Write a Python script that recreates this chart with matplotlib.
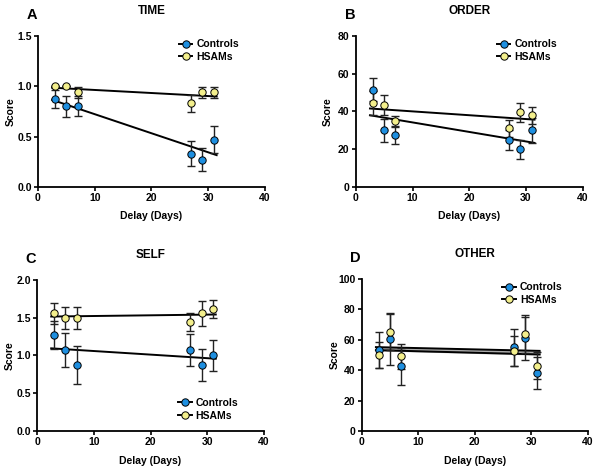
import numpy as np
import matplotlib
matplotlib.use("Agg")
import matplotlib.pyplot as plt

plt.rcParams['font.family'] = ['Liberation Sans', 'DejaVu Sans']
plt.rcParams['font.weight'] = 'bold'

delay = [3, 5, 7, 27, 29, 31]

# TIME
time_ctrl = [0.87, 0.80, 0.80, 0.33, 0.27, 0.47]
time_ctrl_sem = [0.09, 0.105, 0.10, 0.125, 0.115, 0.135]
time_hsam = [1.00, 1.00, 0.94, 0.83, 0.94, 0.94]
time_hsam_sem = [0.0, 0.0, 0.055, 0.085, 0.055, 0.055]

# ORDER
order_ctrl = [51.5, 30.0, 27.3, 25.0, 20.0, 30.0]
order_ctrl_sem = [6.0, 6.0, 4.6, 5.2, 5.0, 6.5]
order_hsam = [44.5, 43.5, 35.0, 31.0, 39.5, 38.0]
order_hsam_sem = [6.5, 5.3, 2.8, 4.5, 5.2, 4.5]

# SELF
self_ctrl = [1.27, 1.07, 0.87, 1.07, 0.87, 1.00]
self_ctrl_sem = [0.18, 0.225, 0.255, 0.21, 0.215, 0.20]
self_hsam = [1.56, 1.50, 1.50, 1.44, 1.56, 1.61]
self_hsam_sem = [0.14, 0.145, 0.145, 0.12, 0.165, 0.12]

# OTHER
other_ctrl = [53.5, 60.5, 42.5, 55.0, 61.0, 38.0]
other_ctrl_sem = [11.8, 17.0, 12.0, 12.0, 14.0, 10.5]
other_hsam = [50.0, 65.0, 49.0, 52.5, 64.0, 43.0]
other_hsam_sem = [8.5, 12.0, 8.5, 10.0, 12.5, 9.0]

blue = '#1e8fe0'
yellow = '#f3ef8c'

panels = [
    ('A', 'TIME', [0.063, 0.604, 0.377, 0.320], time_ctrl, time_ctrl_sem, time_hsam, time_hsam_sem,
     [0, 1.5], [0.0, 0.5, 1.0, 1.5], '%.1f', 'upper'),
    ('B', 'ORDER', [0.591, 0.604, 0.377, 0.320], order_ctrl, order_ctrl_sem, order_hsam, order_hsam_sem,
     [0, 80], [0, 20, 40, 60, 80], '%d', 'upper'),
    ('C', 'SELF', [0.0615, 0.087, 0.377, 0.320], self_ctrl, self_ctrl_sem, self_hsam, self_hsam_sem,
     [0, 2.0], [0.0, 0.5, 1.0, 1.5, 2.0], '%.1f', 'lower'),
    ('D', 'OTHER', [0.601, 0.087, 0.375, 0.322], other_ctrl, other_ctrl_sem, other_hsam, other_hsam_sem,
     [0, 100], [0, 20, 40, 60, 80, 100], '%d', 'upper'),
]

fig = plt.figure(figsize=(6.02, 4.72), dpi=100)

xfit = np.array([2.5, 31.5])
for letter, title, pos, c, cs, h, hs, ylim, yticks, fmt, legpos in panels:
    ax = fig.add_axes(pos)
    fits = []
    for y in (c, h):
        k, b = np.polyfit(delay, y, 1)
        fits.append(k * xfit + b)
        ax.plot(xfit, k * xfit + b, color='black', lw=1.4, zorder=2)
    if letter == 'D':
        ax.fill_between(xfit, fits[0], fits[1], color='#aaaaaa', zorder=1)

    ax.errorbar(delay, c, yerr=cs, fmt='none', ecolor='#222222', elinewidth=1,
                capsize=3, capthick=1, zorder=3)
    ax.errorbar(delay, h, yerr=hs, fmt='none', ecolor='#222222', elinewidth=1,
                capsize=3, capthick=1, zorder=3)
    ax.plot(delay, c, 'o', color=blue, mec='black', mew=0.7, ms=5.3, zorder=4)
    ax.plot(delay, h, 'o', color=yellow, mec='black', mew=0.7, ms=5.3, zorder=4)

    # legend handles (marker with line)
    hc, = ax.plot([], [], '-o', color='black', mfc=blue, mec='black', mew=0.7, ms=5.3, lw=1.4)
    hh, = ax.plot([], [], '-o', color='black', mfc=yellow, mec='black', mew=0.7, ms=5.3, lw=1.4)
    if legpos == 'upper':
        anchor = (0.58, 1.04)
    else:
        anchor = (0.58, 0.28)
    ax.legend([hc, hh], ['Controls', 'HSAMs'], loc='upper left', bbox_to_anchor=anchor,
              frameon=False, handlelength=1.3, handletextpad=0.4, labelspacing=0.25,
              prop={'weight': 'bold', 'size': 7.5})

    ax.set_xlim(0, 40)
    ax.set_ylim(*ylim)
    ax.set_xticks([0, 10, 20, 30, 40])
    ax.set_yticks(yticks)
    ax.yaxis.set_major_formatter(matplotlib.ticker.FormatStrFormatter(fmt))
    for s in ('top', 'right'):
        ax.spines[s].set_visible(False)
    for s in ('left', 'bottom'):
        ax.spines[s].set_linewidth(1.3)
    ax.tick_params(direction='out', length=3, width=1.2, labelsize=7.5, pad=1.5)
    for lab in ax.get_xticklabels() + ax.get_yticklabels():
        lab.set_fontweight('bold')
    ax.set_xlabel('Delay (Days)', fontsize=7.5, fontweight='bold', labelpad=6)
    ax.set_ylabel('Score', fontsize=7.5, fontweight='bold')
    ax.yaxis.set_label_coords(-0.10, 0.5)

    l, b, w, hgt = pos
    fig.text(l + w / 2, b + hgt + 0.052, title, ha='center', va='center',
             fontsize=8.5, fontweight='bold')
    fig.text(l - 0.01, b + hgt + 0.045, letter, ha='center', va='center',
             fontsize=10.5, fontweight='bold')

fig.savefig('out.png', dpi=100)
